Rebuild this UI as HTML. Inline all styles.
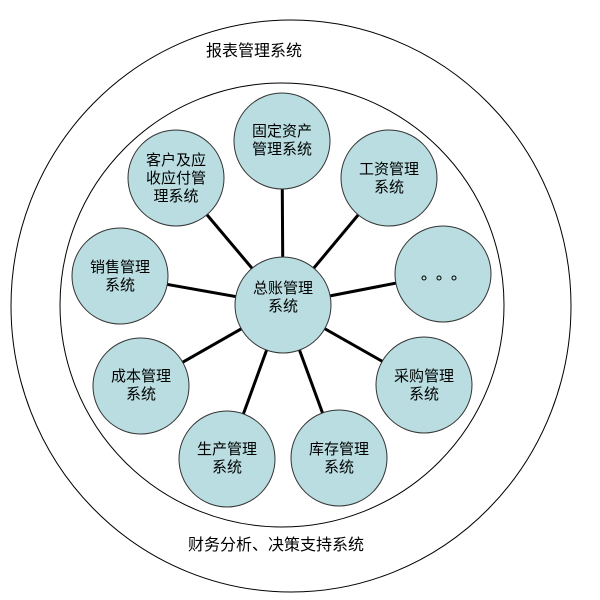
<!DOCTYPE html>
<html><head><meta charset="utf-8"><style>
html,body{margin:0;padding:0;background:#fff;}
svg{display:block;}
text{font-family:"Liberation Sans","Noto Sans CJK SC",sans-serif;fill:#000;}
</style></head><body>
<svg width="600" height="600" viewBox="0 0 600 600">
<ellipse cx="291" cy="306" rx="280" ry="286" fill="none" stroke="#000" stroke-width="1"/>
<ellipse cx="282" cy="305" rx="222" ry="222" fill="none" stroke="#000" stroke-width="1"/>
<text x="254" y="56" font-size="16" text-anchor="middle">报表管理系统</text>
<text x="276" y="550" font-size="16" text-anchor="middle">财务分析、决策支持系统</text>
<g stroke="#000" stroke-width="3">
<line x1="283" y1="305" x2="282" y2="141"/>
<line x1="283" y1="305" x2="389" y2="178"/>
<line x1="283" y1="305" x2="443" y2="274"/>
<line x1="283" y1="305" x2="424" y2="385"/>
<line x1="283" y1="305" x2="339" y2="458"/>
<line x1="283" y1="305" x2="227" y2="459"/>
<line x1="283" y1="305" x2="141" y2="386"/>
<line x1="283" y1="305" x2="120" y2="276"/>
<line x1="283" y1="305" x2="176" y2="178"/>
</g>
<g fill="#b9dde0" stroke="#333" stroke-width="1">
<circle cx="283" cy="305" r="48"/>
<circle cx="282" cy="141" r="48"/>
<circle cx="389" cy="178" r="48"/>
<circle cx="443" cy="274" r="48"/>
<circle cx="424" cy="385" r="48"/>
<circle cx="339" cy="458" r="48"/>
<circle cx="227" cy="459" r="48"/>
<circle cx="141" cy="386" r="48"/>
<circle cx="120" cy="276" r="48"/>
<circle cx="176" cy="178" r="48"/>
</g>
<g font-size="15" text-anchor="middle">
<text x="283" y="293">总账管理</text><text x="283" y="311">系统</text>
<text x="282" y="136">固定资产</text><text x="282" y="154">管理系统</text>
<text x="389" y="174">工资管理</text><text x="389" y="192">系统</text>
<text x="424" y="381">采购管理</text><text x="424" y="399">系统</text>
<text x="339" y="454">库存管理</text><text x="339" y="472">系统</text>
<text x="227" y="454">生产管理</text><text x="227" y="472">系统</text>
<text x="141" y="381">成本管理</text><text x="141" y="399">系统</text>
<text x="120" y="272">销售管理</text><text x="120" y="290">系统</text>
<text x="176" y="165">客户及应</text><text x="176" y="183">收应付管</text><text x="176" y="201">理系统</text>
</g>
<g fill="none" stroke="#000" stroke-width="1">
<circle cx="424" cy="278" r="2"/>
<circle cx="439" cy="278" r="2"/>
<circle cx="454" cy="278" r="2"/>
</g>
</svg>
</body></html>
